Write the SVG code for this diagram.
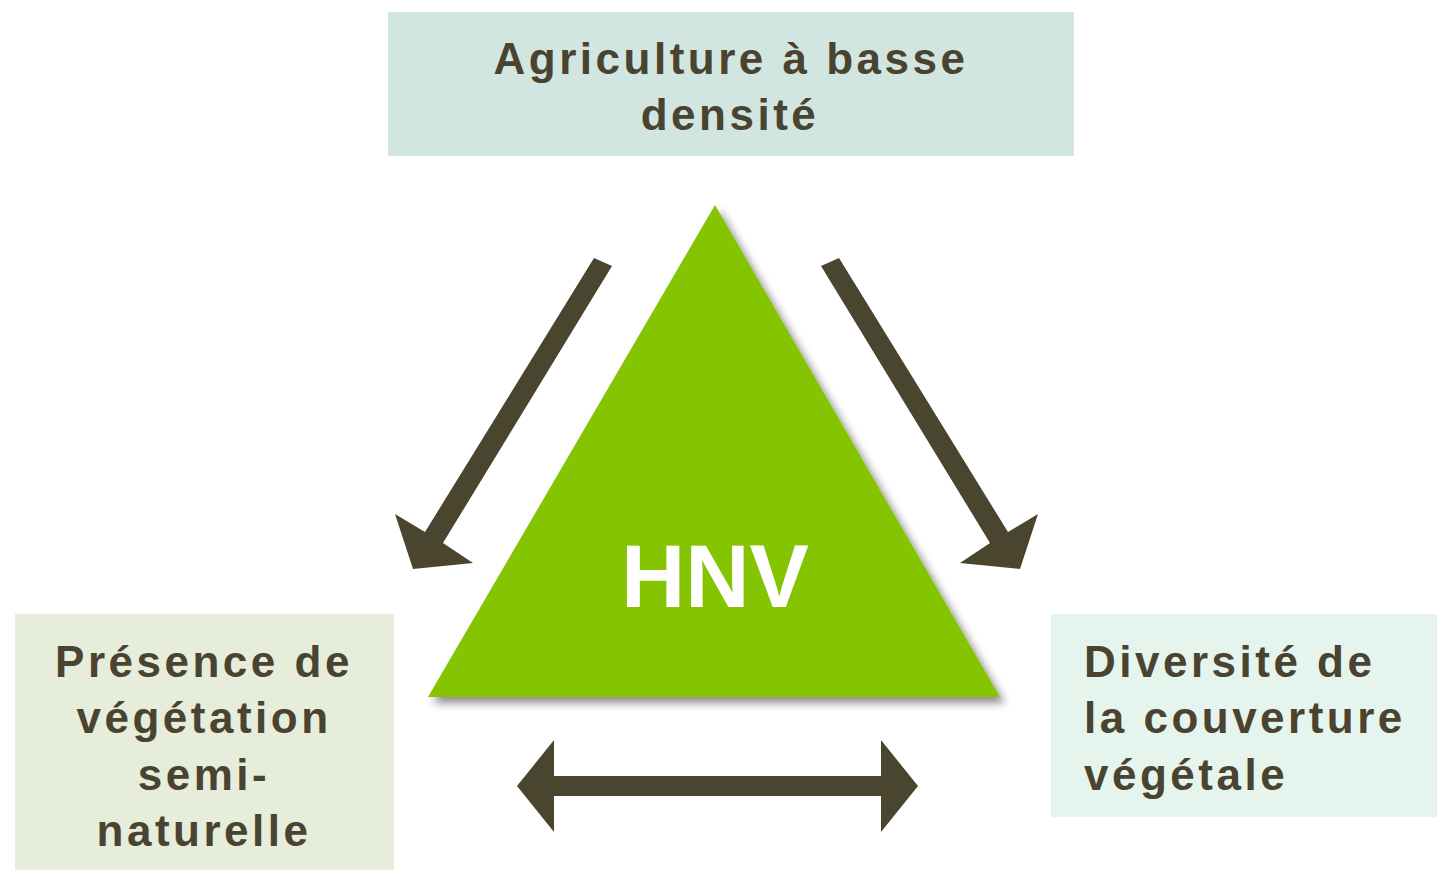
<svg xmlns="http://www.w3.org/2000/svg" width="1437" height="870" viewBox="0 0 1437 870">
  <style>
    .lbl { font-family: "Liberation Sans", Arial, sans-serif; font-weight: bold; font-size: 44px; fill: #4a4330; letter-spacing: 3.5px; }
    .mid { text-anchor: middle; }
    .arrow { fill: #4a452e; }
    .hnv { font-family: "Liberation Sans", Arial, sans-serif; font-weight: bold; font-size: 89px; fill: #ffffff; text-anchor: middle; }
  </style>
  <defs>
    <filter id="shadow" x="-10%" y="-10%" width="130%" height="130%">
      <feDropShadow dx="5" dy="6" stdDeviation="4" flood-color="#000000" flood-opacity="0.45"/>
    </filter>
  </defs>
  <rect width="1437" height="870" fill="#ffffff"/>

  <g id="node-agriculture">
    <rect x="388" y="12" width="686" height="144" fill="#d1e6e1"/>
    <text class="lbl mid" x="731" y="74">Agriculture à basse</text>
    <text class="lbl mid" x="730" y="130">densité</text>
  </g>

  <g id="node-vegetation">
    <rect x="15" y="614" width="379" height="256" fill="#e6eddb"/>
    <text class="lbl mid" x="204" y="677">Présence de</text>
    <text class="lbl mid" x="204" y="733">végétation</text>
    <text class="lbl mid" x="204" y="790">semi-</text>
    <text class="lbl mid" x="204" y="846">naturelle</text>
  </g>

  <g id="node-diversite">
    <rect x="1051" y="614" width="386" height="203" fill="#e5f4ec"/>
    <text class="lbl" x="1084" y="677">Diversité de</text>
    <text class="lbl" x="1084" y="733">la couverture</text>
    <text class="lbl" x="1084" y="790">végétale</text>
  </g>

  <g id="node-hnv">
    <polygon points="715,205 1000,697 428,697" fill="#84c400" filter="url(#shadow)"/>
    <text class="hnv" x="715" y="607">HNV</text>
  </g>

  <g id="connectors">
    <polygon class="arrow" points="594,258 612,266 443,543 473,563 413,569 395,514 425,532"/>
    <polygon class="arrow" points="839,258 821,266 990,543 960,563 1020,569 1038,514 1008,532"/>
    <polygon class="arrow" points="517,786 554,740 554,776 881,776 881,740 918,786 881,832 881,796 554,796 554,832"/>
  </g>
</svg>
